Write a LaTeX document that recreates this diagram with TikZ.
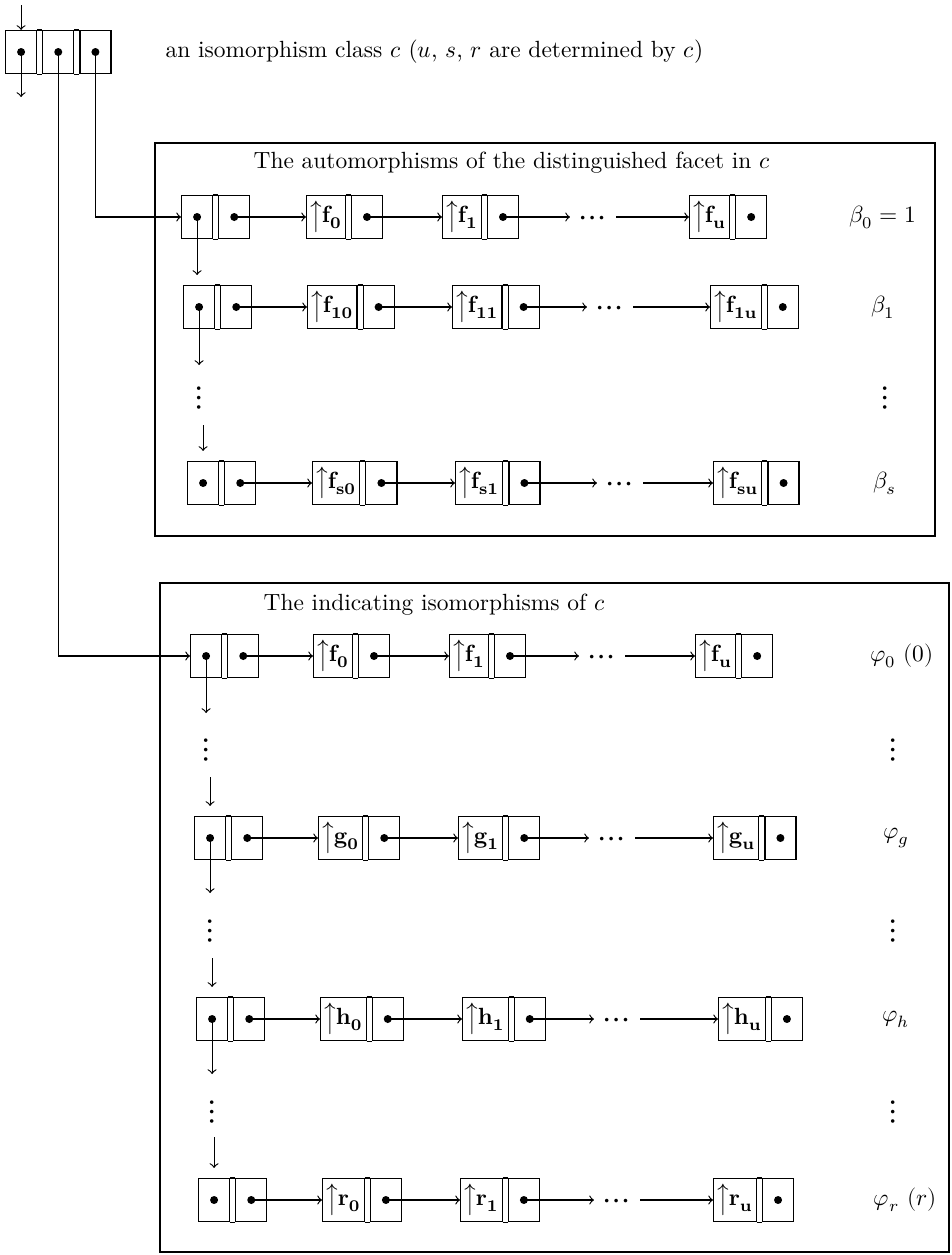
\documentclass[tikz,border=0pt]{standalone}
\usepackage{amsmath}
\usepackage{unicode-math}
\setmathfont{Latin Modern Math}
\usepackage{tikz}
\usetikzlibrary{positioning}

% a list cell: pointer part, double bar, link part with its dot
\newcommand{\ptr}[2]{$\big\uparrow\mathbf{#1}_{\mathbf{#2}}$}
\newcommand{\rec}[4]{%
  \node[cell,anchor=west] (#1) at (#2,#3) {#4};
  \node[cell,right=.075cm of #1] (#1r) {};
  \draw (#1.north east) -- (#1r.north west) (#1.south east) -- (#1r.south west);
  \fill (#1r.center) circle[radius=.06cm];}
\newcommand{\head}[3]{\rec{#1}{#2}{#3}{}\fill (#1.center) circle[radius=.06cm];}
\newcommand{\links}[1]{%
  \draw[->] (#1r.center) -- (#1a.west);
  \draw[->] (#1ar.center) -- (#1b.west);
  \draw[->] (#1br.center) -- (#1c.west |- #1br.center);
  \draw[->] (#1c.east |- #1br.center) -- (#1u.west);}

\begin{document}
\begin{tikzpicture}[x=.015cm,y=-.015cm,line width=.5pt,>=to,
  cell/.style={draw,inner xsep=1.5pt,inner ysep=0pt,minimum height=.645cm,minimum width=.465cm},
  dots/.style={anchor=mid,yshift=-.07cm,inner xsep=4pt,font=\Large},
  vd/.style={inner sep=0pt,font=\Large},
  txt/.style={anchor=west,inner sep=0pt}]
\useasboundingbox (0,0) rectangle (952,1255);

% the class record
\node[cell,anchor=west] (t1) at (5,52) {};
\node[cell,right=.075cm of t1] (t2) {};
\node[cell,right=.075cm of t2] (t3) {};
\draw (t1.north east) -- (t2.north west) (t1.south east) -- (t2.south west);
\draw (t2.north east) -- (t3.north west) (t2.south east) -- (t3.south west);
\foreach \c in {t1,t2,t3} \fill (\c.center) circle[radius=.06cm];
\coordinate (tin) at (t1.north |- 0,5);
\coordinate (tout) at (t1.center |- 0,97);
\draw[->] (tin) -- (t1.north);
\draw[->] (t1.center) -- (tout);
\node[txt] (cls) at (165,52) {an isomorphism class $c$ ($u$, $s$, $r$ are determined by $c$)};

% automorphisms
\draw (155,143) rectangle (935,536);
\node[txt] (ttl1) at (253,163) {The automorphisms of the distinguished facet in $c$};

\head{b0}{181}{217}
\rec{b0a}{306}{217}{\ptr{f}{0}}
\rec{b0b}{442}{217}{\ptr{f}{1}}
\node[dots] (b0c) at (593,217) {$⋯$};
\rec{b0u}{689}{217}{\ptr{f}{u}}
\links{b0}
\node (bl0) at (883,217) {$\beta_0=1$};

\head{b1}{183}{307}
\rec{b1a}{307}{307}{\ptr{f}{10}}
\rec{b1b}{452}{307}{\ptr{f}{11}}
\node[dots] (b1c) at (610,307) {$⋯$};
\rec{b1u}{710}{307}{\ptr{f}{1u}}
\links{b1}
\node (bl1) at (883,307) {$\beta_1$};

\head{bs}{187}{483}
\rec{bsa}{312}{483}{\ptr{f}{s0}}
\rec{bsb}{455}{483}{\ptr{f}{s1}}
\node[dots] (bsc) at (620,483) {$⋯$};
\rec{bsu}{713}{483}{\ptr{f}{su}}
\links{bs}
\node (bls) at (885,483) {$\beta_s$};

\coordinate (b0d) at (b0.center |- 0,275);
\draw[->] (b0.center) -- (b0d);
\coordinate (b1d) at (b1.center |- 0,365);
\draw[->] (b1.center) -- (b1d);
\node[vd] (bv) at (b1.center |- 0,398) {$⋮$};
\node[vd] (blv) at (885,398) {$⋮$};
\coordinate (bst) at (bs.north |- 0,425);
\draw[->,shorten >=.15cm] (bst) -- (bs.north);

% indicating isomorphisms
\draw (160,583) rectangle (949,1252);
\node[txt] (ttl2) at (263,605) {The indicating isomorphisms of $c$};

\head{p0}{190}{656}
\rec{p0a}{313}{656}{\ptr{f}{0}}
\rec{p0b}{449}{656}{\ptr{f}{1}}
\node[dots] (p0c) at (602,656) {$⋯$};
\rec{p0u}{695}{656}{\ptr{f}{u}}
\links{p0}
\node (pl0) at (902,656) {$\varphi_0\ (0)$};

\head{pg}{194}{838}
\rec{pga}{318}{838}{\ptr{g}{0}}
\rec{pgb}{458}{838}{\ptr{g}{1}}
\node[dots] (pgc) at (612,838) {$⋯$};
\rec{pgu}{713}{838}{\ptr{g}{u}}
\links{pg}
\node (plg) at (896,838) {$\varphi_g$};

\head{ph}{196}{1019}
\rec{pha}{320}{1019}{\ptr{h}{0}}
\rec{phb}{462}{1019}{\ptr{h}{1}}
\node[dots] (phc) at (617,1019) {$⋯$};
\rec{phu}{718}{1019}{\ptr{h}{u}}
\links{ph}
\node (plh) at (896,1019) {$\varphi_h$};

\head{pr}{198}{1200}
\rec{pra}{322}{1200}{\ptr{r}{0}}
\rec{prb}{460}{1200}{\ptr{r}{1}}
\node[dots] (prc) at (617,1200) {$⋯$};
\rec{pru}{713}{1200}{\ptr{r}{u}}
\links{pr}
\node (plr) at (905,1200) {$\varphi_r\ (r)$};

% down the first column
\coordinate (p0d) at (p0.center |- 0,713);
\draw[->] (p0.center) -- (p0d);
\node[vd] (pv0) at (p0.center |- 0,750) {$⋮$};
\node[vd] (plv0) at (893,750) {$⋮$};
\coordinate (pgt) at (pg.north |- 0,777);
\draw[->,shorten >=.15cm] (pgt) -- (pg.north);

\coordinate (pgd) at (pg.center |- 0,893);
\draw[->] (pg.center) -- (pgd);
\node[vd] (pvg) at (pg.center |- 0,931) {$⋮$};
\node[vd] (plvg) at (893,931) {$⋮$};
\coordinate (pht) at (ph.north |- 0,958);
\draw[->,shorten >=.15cm] (pht) -- (ph.north);

\coordinate (phd) at (ph.center |- 0,1074);
\draw[->] (ph.center) -- (phd);
\node[vd] (pvh) at (ph.center |- 0,1112) {$⋮$};
\node[vd] (plvh) at (893,1112) {$⋮$};
\coordinate (prt) at (pr.north |- 0,1137);
\draw[->,shorten >=.15cm] (prt) -- (pr.north);

% class record to the two lists
\draw[->] (t3.center) |- (b0.west);
\draw[->] (t2.center) |- (p0.west);
\end{tikzpicture}
\end{document}
